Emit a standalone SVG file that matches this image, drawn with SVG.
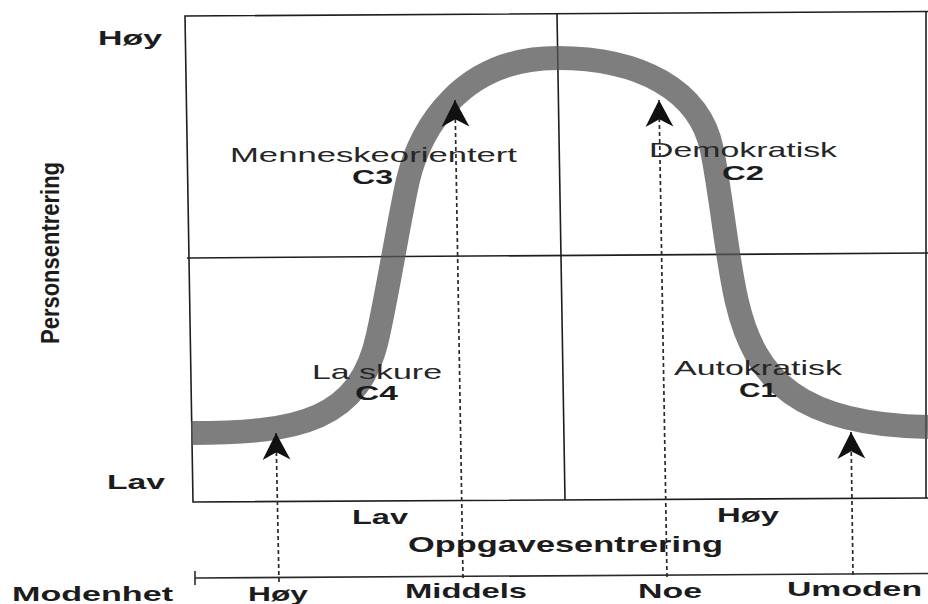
<svg xmlns="http://www.w3.org/2000/svg" width="928" height="604" viewBox="0 0 928 604">
  <style>
    .frame { fill: none; stroke: #1e1e1e; stroke-width: 1.6; }
    .curve { fill: none; stroke: #555; stroke-opacity: 0.76; stroke-width: 24; stroke-linecap: butt; }
    .guide { fill: none; stroke: #2a2a2a; stroke-width: 1.7; stroke-dasharray: 4 3; }
    .axis { fill: none; stroke: #2a2a2a; stroke-width: 1.6; }
    .lbl { font-family: "Liberation Sans", Arial, sans-serif; font-size: 21px; fill: #262626; }
    .b { font-weight: bold; fill: #1c1c1c; }
  </style>
  <defs>
    <marker id="head" markerUnits="userSpaceOnUse" markerWidth="30" markerHeight="30"
            viewBox="-26 -14 28 28" refX="0" refY="0" orient="auto">
      <path d="M0,0 L-25,-13 L-18,0 L-25,13 Z" fill="#111"/>
    </marker>
  </defs>

  <!-- quadrant grid -->
  <g id="grid">
    <polyline class="frame" points="928,11.5 185,16 193,502 928,498"/>
    <line class="frame" x1="926" y1="12" x2="926" y2="498"/>
    <line class="frame" x1="187" y1="258" x2="928" y2="253"/>
    <line class="frame" x1="557" y1="14" x2="565" y2="500"/>
  </g>

  <!-- leadership style curve -->
  <g id="curve">
    <path class="curve" d="M191,433 C300,433 360,420 378,335 C390,280 398,225 408,180 C420,130 460,58 557,58 C640,58 700,90 712,150 C722,200 727,260 737,302 C755,380 800,425 928,427"/>
  </g>

  <!-- maturity scale -->
  <g id="scale">
    <line class="axis" x1="195" y1="578" x2="928" y2="573.5"/>
    <line class="axis" x1="195" y1="571" x2="195" y2="585"/>
  </g>

  <!-- maturity pointers -->
  <g id="connectors">
    <line class="guide" x1="279" y1="582" x2="276" y2="433" marker-end="url(#head)"/>
    <line class="guide" x1="463" y1="578" x2="455" y2="100" marker-end="url(#head)"/>
    <line class="guide" x1="667" y1="577" x2="659" y2="100" marker-end="url(#head)"/>
    <line class="guide" x1="853" y1="575" x2="851" y2="432" marker-end="url(#head)"/>
  </g>

  <!-- axis labels -->
  <g id="y-axis">
    <text class="lbl b" x="98" y="45" textLength="64" lengthAdjust="spacingAndGlyphs">Høy</text>
    <text class="lbl b" x="107" y="489" textLength="58" lengthAdjust="spacingAndGlyphs">Lav</text>
    <text class="lbl b" x="59" y="344" transform="rotate(-90 59 344)" style="font-size:26px" textLength="182" lengthAdjust="spacingAndGlyphs">Personsentrering</text>
  </g>
  <g id="x-axis">
    <text class="lbl b" x="352" y="524" style="font-size:20px" textLength="56" lengthAdjust="spacingAndGlyphs">Lav</text>
    <text class="lbl b" x="717" y="522" textLength="62" lengthAdjust="spacingAndGlyphs">Høy</text>
    <text class="lbl b" x="408" y="552" style="font-size:22px" textLength="315" lengthAdjust="spacingAndGlyphs">Oppgavesentrering</text>
  </g>

  <!-- quadrant styles -->
  <g id="c3">
    <text class="lbl" x="230" y="162" textLength="287" lengthAdjust="spacingAndGlyphs">Menneskeorientert</text>
    <text class="lbl b" x="352" y="184" textLength="41" lengthAdjust="spacingAndGlyphs">C3</text>
  </g>
  <g id="c2">
    <text class="lbl" x="649" y="157" textLength="188" lengthAdjust="spacingAndGlyphs">Demokratisk</text>
    <text class="lbl b" x="722" y="180" textLength="42" lengthAdjust="spacingAndGlyphs">C2</text>
  </g>
  <g id="c4">
    <text class="lbl" x="312" y="379" textLength="130" lengthAdjust="spacingAndGlyphs">La skure</text>
    <text class="lbl b" x="355" y="400" textLength="43" lengthAdjust="spacingAndGlyphs">C4</text>
  </g>
  <g id="c1">
    <text class="lbl" x="674" y="375" textLength="168" lengthAdjust="spacingAndGlyphs">Autokratisk</text>
    <text class="lbl b" x="739" y="397" textLength="38" lengthAdjust="spacingAndGlyphs">C1</text>
  </g>

  <!-- maturity labels -->
  <g id="maturity">
    <text class="lbl b" x="12" y="601" style="font-size:20px" textLength="161" lengthAdjust="spacingAndGlyphs">Modenhet</text>
    <text class="lbl b" x="248" y="601" style="font-size:20px" textLength="60" lengthAdjust="spacingAndGlyphs">Høy</text>
    <text class="lbl b" x="405" y="598" style="font-size:21px" textLength="122" lengthAdjust="spacingAndGlyphs">Middels</text>
    <text class="lbl b" x="638" y="598" style="font-size:21px" textLength="64" lengthAdjust="spacingAndGlyphs">Noe</text>
    <text class="lbl b" x="787" y="596" style="font-size:21px" textLength="135" lengthAdjust="spacingAndGlyphs">Umoden</text>
  </g>
</svg>
